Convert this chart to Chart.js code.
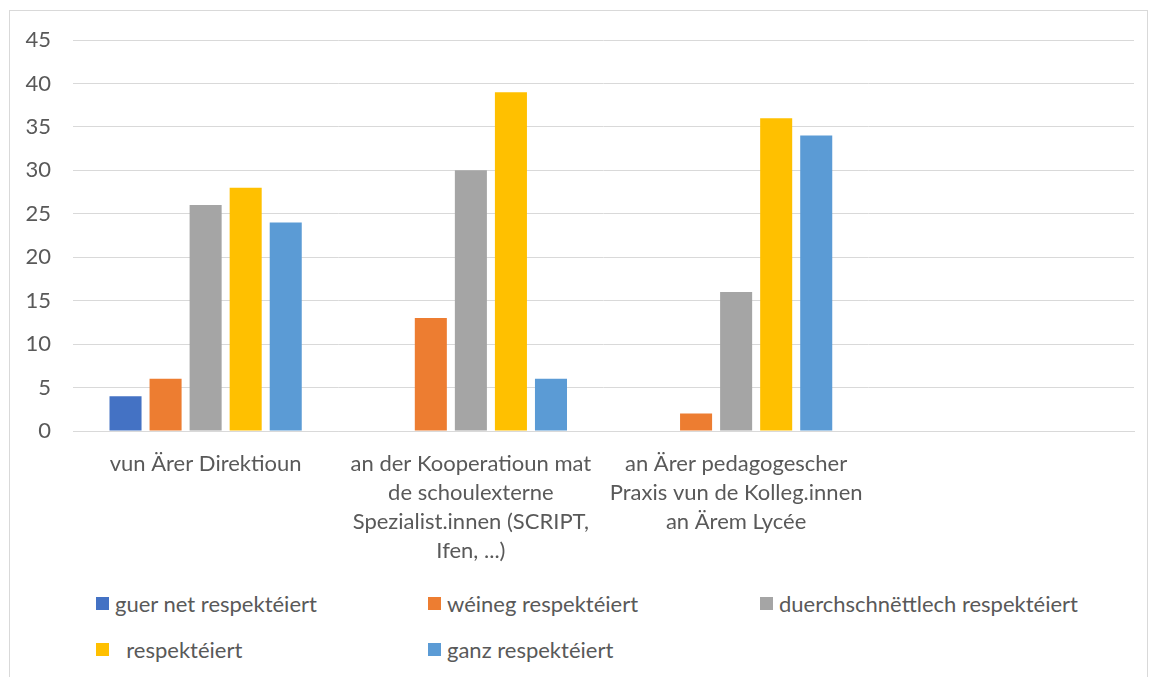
<!DOCTYPE html>
<html lang="lb">

<head>
    <meta charset="UTF-8">
    <title>Respekt</title>
    <script src="https://cdn.jsdelivr.net/npm/chart.js"></script>
    <style>
        body {
            margin: 0;
            background: #fff;
            font-family: 'Lato', sans-serif;
            color: #595959;
        }

        .frame {
            position: absolute;
            left: 9px;
            top: 10px;
            width: 1137px;
            height: 680px;
            border: 1px solid #d9d9d9;
        }

        .chart-box {
            position: relative;
            width: 1137px;
            height: 565px;
        }

        .legend {
            position: absolute;
            left: 86px;
            top: 579px;
            width: 1040px;
            display: grid;
            grid-template-columns: 332px 332px 360px;
            row-gap: 20px;
            font-size: 22px;
        }

        .legend div {
            display: flex;
            align-items: center;
            white-space: pre;
            height: 26px;
        }

        .legend span.box {
            display: inline-block;
            width: 13px;
            height: 13px;
            margin-right: 6px;
        }
    </style>
</head>

<body>
    <div class="frame">
        <div class="chart-box"><canvas id="c"></canvas></div>
        <div class="legend" id="legend"></div>
    </div>

    <script>
        const categories = [
            ['vun Ärer Direktioun'],
            ['an der Kooperatioun mat', 'de schoulexterne', 'Spezialist.innen (SCRIPT,', 'Ifen, ...)'],
            ['an Ärer pedagogescher', 'Praxis vun de Kolleg.innen', 'an Ärem Lycée'],
            ['']
        ];
        const seriesNames = ['guer net respektéiert', 'wéineg respektéiert', 'duerchschnëttlech respektéiert', '  respektéiert', 'ganz respektéiert'];
        const seriesColors = ['#4472C4', '#ED7D31', '#A5A5A5', '#FFC000', '#5B9BD5'];
        const guerNet = [4, null, null, null];
        const weineg = [6, 13, 2, null];
        const duerchschnett = [26, 30, 16, null];
        const respekteiert = [28, 39, 36, null];
        const ganz = [24, 6, 34, null];
        const values = [guerNet, weineg, duerchschnett, respekteiert, ganz];

        const textColor = '#595959';
        const gridColor = '#d9d9d9';

        new Chart(document.getElementById('c'), {
            type: 'bar',
            data: {
                labels: categories,
                datasets: seriesNames.map((name, i) => ({
                    label: name,
                    data: values[i],
                    backgroundColor: seriesColors[i],
                    barPercentage: 0.8,
                    categoryPercentage: 0.755
                }))
            },
            options: {
                responsive: true,
                maintainAspectRatio: false,
                animation: false,
                layout: { padding: { top: 29, right: 13, bottom: 0, left: 0 } },
                plugins: {
                    legend: { display: false },
                    tooltip: { enabled: false }
                },
                scales: {
                    x: {
                        grid: { display: false },
                        border: { color: gridColor },
                        ticks: {
                            color: textColor,
                            font: { family: 'Lato', size: 22, lineHeight: 1.32 },
                            maxRotation: 0,
                            autoSkip: false,
                            padding: 10
                        },
                        afterFit: s => {
                            s.height = 145;
                            s.paddingLeft = 0;
                            s.paddingRight = 0;
                        }
                    },
                    y: {
                        min: 0,
                        max: 45,
                        grid: { color: gridColor, drawTicks: false },
                        border: { display: false },
                        ticks: {
                            stepSize: 5,
                            color: textColor,
                            font: { family: 'Lato', size: 22 },
                            padding: 22
                        },
                        afterFit: s => {
                            s.width = 63;
                            s.paddingTop = 0;
                            s.paddingBottom = 0;
                        }
                    }
                }
            }
        });

        const legend = document.getElementById('legend');
        seriesNames.forEach((name, i) => {
            const item = document.createElement('div');
            const box = document.createElement('span');
            box.className = 'box';
            box.style.background = seriesColors[i];
            item.appendChild(box);
            item.appendChild(document.createTextNode(name));
            legend.appendChild(item);
        });
    </script>
</body>

</html>
